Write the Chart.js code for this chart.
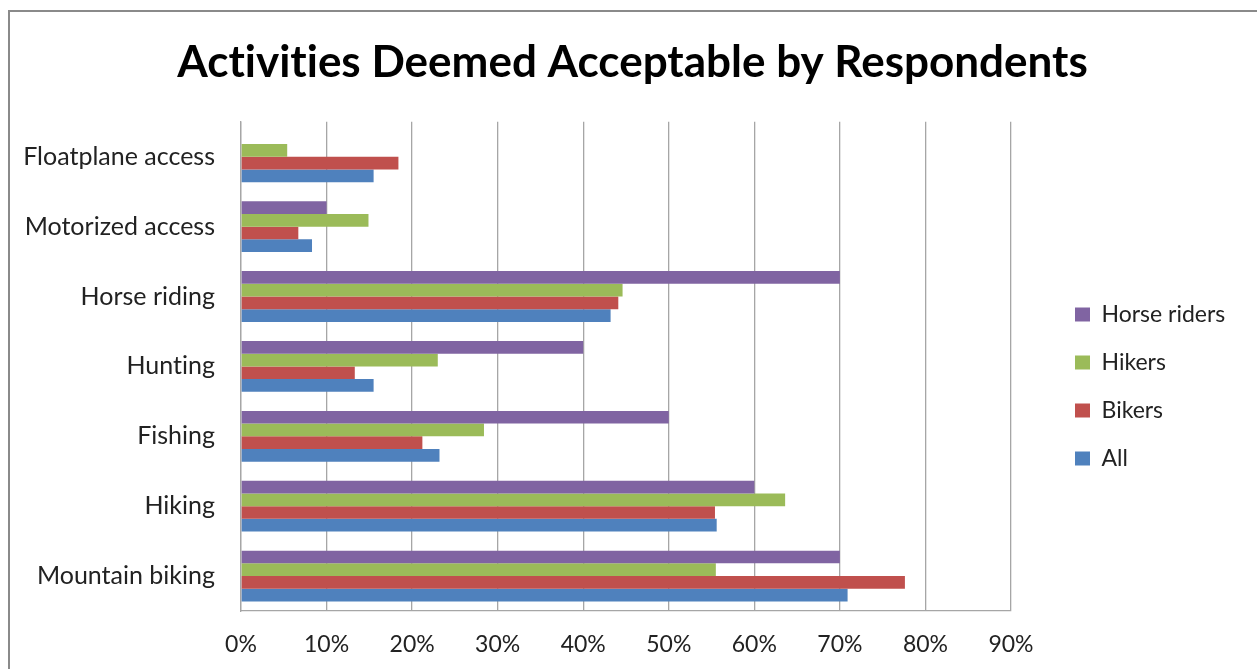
<!DOCTYPE html>
<html>
<head>
<meta charset="utf-8">
<title>Activities Deemed Acceptable by Respondents</title>
<script src="https://cdn.jsdelivr.net/npm/chart.js@4.4.1/dist/chart.umd.min.js"></script>
<style>
  html, body { margin: 0; padding: 0; background: #fff; }
  #wrap { width: 1257px; height: 669px; }
</style>
</head>
<body>
<div id="wrap"><canvas id="activities" width="1257" height="669"></canvas></div>
<script>
// survey answers, percent of each group that finds the activity acceptable
const categories = ['Floatplane access', 'Motorized access', 'Horse riding', 'Hunting', 'Fishing', 'Hiking', 'Mountain biking'];
const horseRiders = [0, 10, 70, 40, 50, 60, 70];
const hikers = [5.4, 14.9, 44.6, 23.0, 28.4, 63.6, 55.5];
const bikers = [18.4, 6.7, 44.1, 13.3, 21.2, 55.4, 77.6];
const allResp = [15.5, 8.3, 43.2, 15.5, 23.2, 55.6, 70.9];
const xTicks = [0, 10, 20, 30, 40, 50, 60, 70, 80, 90];

const FONT = 'Lato, "Open Sans", sans-serif';
const GRID = '#a6a6a6';

// Lato joins "ti" into one glyph; a zero-width non-joiner keeps the letters apart
const plain = s => s.replace(/t(?=i)/g, 't\u200C');

// white page with the grey frame round the whole chart
const frame = {
  id: 'frame',
  beforeDraw(chart) {
    const c = chart.ctx;
    c.save();
    c.fillStyle = '#fff';
    c.fillRect(0, 0, chart.width, chart.height);
    c.strokeStyle = '#8a8a8a';
    c.lineWidth = 2;
    c.strokeRect(9, 11, chart.width - 2, chart.height + 20);
    c.restore();
  }
};

// title centred on the whole sheet, legend block off to the right of the plot
const blockSpots = {
  id: 'blockSpots',
  afterLayout(chart, args, opts) {
    const t = chart.titleBlock;
    t.left = 0;
    t.right = opts.titleRight;
    const lg = chart.legend;
    const pad = lg.options.labels.padding;
    lg.left = opts.legendX - pad;
    lg.right = chart.width;
    lg.top = opts.legendY - pad;
  }
};

new Chart(document.getElementById('activities'), {
  type: 'bar',
  data: {
    labels: categories.map(plain),
    datasets: [
      { label: 'Horse riders', data: horseRiders, backgroundColor: '#8064a2' },
      { label: 'Hikers', data: hikers, backgroundColor: '#9bbb59' },
      { label: 'Bikers', data: bikers, backgroundColor: '#c0504d' },
      { label: 'All', data: allResp, backgroundColor: '#4f81bd' }
    ]
  },
  options: {
    indexAxis: 'y',
    responsive: false,
    animation: false,
    devicePixelRatio: 1,
    layout: { padding: { left: 0, right: 96, top: 0, bottom: 0 } },
    datasets: {
      bar: { categoryPercentage: 0.727, barPercentage: 1.0, borderWidth: 0 }
    },
    scales: {
      x: {
        min: 0,
        max: 90,
        afterBuildTicks(scale) { scale.ticks = xTicks.map(v => ({ value: v })); },
        afterFit(scale) { scale.height = 58; },
        grid: { color: GRID, lineWidth: 1.3, drawTicks: false },
        border: { color: GRID, width: 1.3 },
        ticks: {
          padding: 20,
          color: '#222',
          font: { family: FONT, size: 23 },
          callback: v => v + '%'
        }
      },
      y: {
        afterFit(scale) { scale.width = 241; },
        grid: { display: false, drawTicks: false },
        border: { color: GRID, width: 1.3 },
        ticks: {
          padding: 26,
          color: '#222',
          font: { family: FONT, size: 25 }
        }
      }
    },
    plugins: {
      title: {
        display: true,
        text: plain('Activities Deemed Acceptable by Respondents'),
        color: '#000',
        font: { family: FONT, size: 44, weight: 'bold', lineHeight: 1.2 },
        padding: { top: 36, bottom: 33 }
      },
      legend: {
        position: 'right',
        align: 'start',
        maxWidth: 150,
        labels: {
          boxWidth: 15,
          boxHeight: 14,
          padding: 25,
          color: '#222',
          font: { family: FONT, size: 23 }
        }
      },
      blockSpots: { titleRight: 1265, legendX: 1075, legendY: 303 },
      tooltip: { enabled: false }
    }
  },
  plugins: [frame, blockSpots]
});
</script>
</body>
</html>
